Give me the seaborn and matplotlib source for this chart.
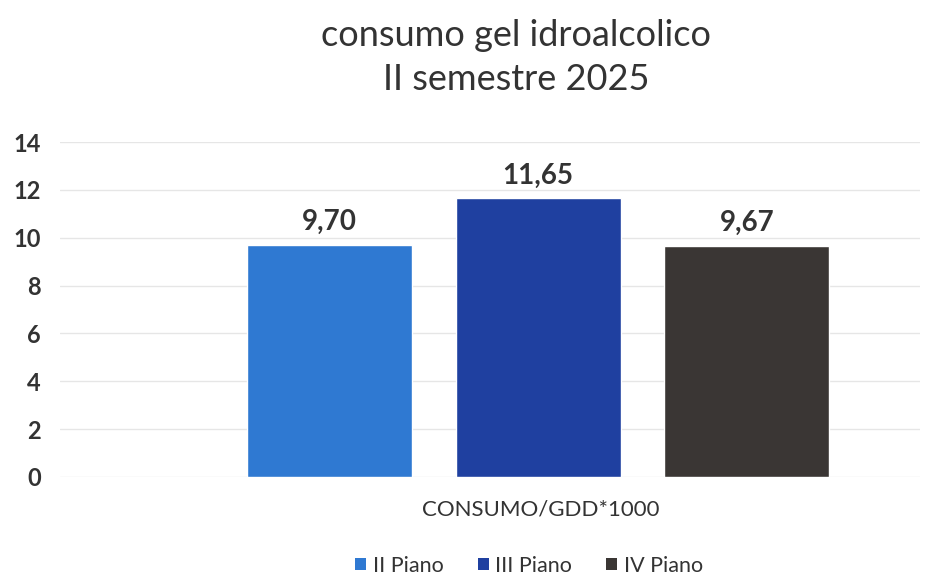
import matplotlib
matplotlib.use("Agg")
import matplotlib.pyplot as plt
import seaborn as sns
import pandas as pd
from matplotlib.patches import Patch

categories = ["CONSUMO/GDD*1000"]
piani = ["II Piano", "III Piano", "IV Piano"]
values = [9.70, 11.65, 9.67]
value_labels = ["9,70", "11,65", "9,67"]
yticks = [0, 2, 4, 6, 8, 10, 12, 14]
colors = ["#2F79D2", "#1F40A0", "#3A3634"]

df = pd.DataFrame({"cat": categories * len(piani), "piano": piani, "val": values})

sns.set_theme(style="white")
plt.rcParams["font.family"] = ["Lato", "DejaVu Sans"]
text_color = "#333333"

fig = plt.figure(figsize=(9.27, 5.78), dpi=100)
ax = fig.add_axes([0.065, 0.175, 0.927, 0.579])

sns.barplot(data=df, x="cat", y="val", hue="piano", palette=colors,
            hue_order=piani, gap=0.21, width=0.8, legend=False, ax=ax,
            saturation=1, err_kws={"linewidth": 0})

for cont, lab in zip(ax.containers, value_labels):
    ax.bar_label(cont, labels=[lab], padding=7, fontsize=20, fontweight="bold",
                 color=text_color)

ax.set_ylim(0, 14)
ax.set_xlim(-0.61, 0.487)
ax.set_yticks(yticks)
ax.set_yticklabels([str(t) for t in yticks], fontsize=17, fontweight="bold",
                   color=text_color)
ax.tick_params(axis="y", pad=14, length=0)
ax.set_xticks([])
ax.set_ylabel("")
ax.set_xlabel("")
ax.yaxis.grid(True, color="#E6E6E6", linewidth=1)
ax.set_axisbelow(True)
for s in ax.spines.values():
    s.set_visible(False)

fig.text(541 / 927, 1 - 510 / 578, categories[0], ha="center", va="center",
         fontsize=16, color=text_color)

fig.text(516 / 927, 1 - 35 / 578, "consumo gel idroalcolico", ha="center",
         va="center", fontsize=26, color=text_color)
fig.text(516 / 927, 1 - 80 / 578, "II semestre 2025", ha="center", va="center",
         fontsize=26, color=text_color)

handles = [Patch(facecolor=c, edgecolor="none") for c in colors]
fig.legend(handles, piani, loc="center", bbox_to_anchor=(529 / 927, 1 - 566 / 578),
           ncol=3, frameon=False, fontsize=15.5, handlelength=0.5,
           handleheight=0.5, handletextpad=0.3, columnspacing=1.6,
           labelcolor=text_color)

fig.savefig("out.png", dpi=100)
